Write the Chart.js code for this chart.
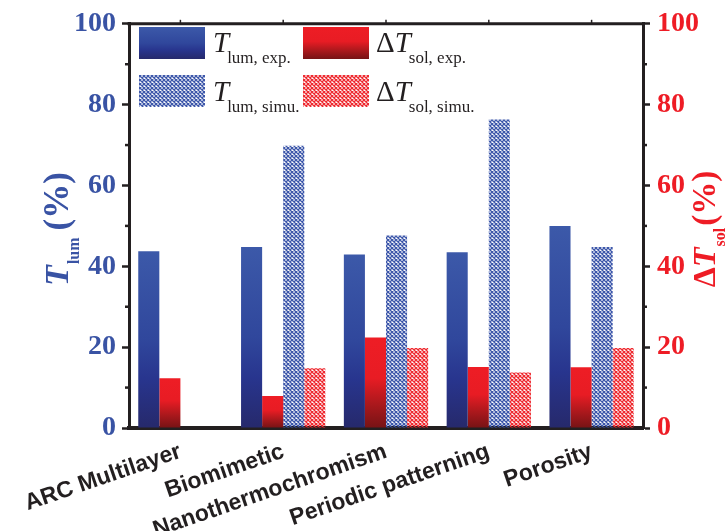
<!DOCTYPE html>
<html>
<head>
<meta charset="utf-8">
<script src="https://cdn.jsdelivr.net/npm/chart.js@4.4.0/dist/chart.umd.min.js"></script>
<style>
  html, body { margin: 0; padding: 0; background: #fff; }
</style>
</head>
<body>
<canvas id="chart" width="725" height="531"></canvas>
<script>
// values
const categories = ['ARC Multilayer', 'Biomimetic', 'Nanothermochromism', 'Periodic patterning', 'Porosity']
const tLumExp = [43.7, 44.8, 42.9, 43.5, 50.0]
const dtSolExp = [12.3, 7.9, 22.4, 15.1, 15.0]
const tLumSimu = [null, 69.8, 47.6, 76.3, 44.8]
const dtSolSimu = [null, 14.8, 19.8, 13.7, 19.8]
const minorTicks = [10, 30, 50, 70, 90]

const BLUE = '#3953a4'
const RED = '#ee1c25'
const INK = '#231f20'

const blueStops = [[0, '#3c59a9'], [0.5, '#30479c'], [0.72, '#28358e'], [1, '#26296b']]
const redStops = [[0, '#ee1d25'], [0.45, '#e81c24'], [0.75, '#a8181c'], [1, '#761315']]

function hatch(color) {
    const c = document.createElement('canvas')
    c.width = 4
    c.height = 4
    const g = c.getContext('2d')
    g.strokeStyle = color
    g.lineWidth = 1.3
    g.beginPath()
    g.moveTo(-1, -1); g.lineTo(5, 5)
    g.moveTo(5, -1); g.lineTo(-1, 5)
    g.stroke()
    return g.createPattern(c, 'repeat')
}

function barGradient(ctx, stops) {
    const chart = ctx.chart
    if (!chart.chartArea || ctx.raw == null) return stops[0][1]
    const scale = chart.scales[ctx.dataset.yAxisID]
    const top = scale.getPixelForValue(ctx.raw)
    const bottom = scale.getPixelForValue(0)
    if (!isFinite(top) || bottom - top < 1) return stops[0][1]
    const g = chart.ctx.createLinearGradient(0, top, 0, bottom)
    stops.forEach(s => g.addColorStop(s[0], s[1]))
    return g
}

function legendGradient(ctx, y, h, stops) {
    const g = ctx.createLinearGradient(0, y, 0, y + h)
    stops.forEach(s => g.addColorStop(s[0], s[1]))
    return g
}

// draw a run of text pieces (main text + subscripts)
function drawRich(ctx, parts, x, y, center) {
    let total = 0
    parts.forEach(p => {
        ctx.font = p.font
        p.w = ctx.measureText(p.text).width
        total += p.w + (p.gap || 0)
    })
    let cx = center ? x - total / 2 : x
    parts.forEach(p => {
        ctx.font = p.font
        ctx.fillText(p.text, cx, y + (p.dy || 0))
        cx += p.w + (p.gap || 0)
    })
}

const blueHatch = hatch('#3d57aa')
const redHatch = hatch('#ee2a30')

const decor = {
    id: 'decor',
    afterDraw(chart) {
        const ctx = chart.ctx
        const area = chart.chartArea
        const x = chart.scales.x
        const y = chart.scales.y
        const y2 = chart.scales.y2
        ctx.save()

        // top frame line with little ticks at the categories
        ctx.strokeStyle = INK
        ctx.lineWidth = 3
        ctx.beginPath()
        ctx.moveTo(area.left - 1.5, area.top)
        ctx.lineTo(area.right + 1.5, area.top)
        ctx.stroke()
        ctx.lineWidth = 1.5
        categories.forEach((c, i) => {
            const px = x.getPixelForTick(i)
            ctx.beginPath()
            ctx.moveTo(px, area.top)
            ctx.lineTo(px, area.top - 4)
            ctx.stroke()
        })

        // minor ticks on both value axes
        ctx.lineWidth = 2.5
        minorTicks.forEach(v => {
            const py = y.getPixelForValue(v)
            ctx.beginPath()
            ctx.moveTo(area.left, py)
            ctx.lineTo(area.left - 4, py)
            ctx.stroke()
            const py2 = y2.getPixelForValue(v)
            ctx.beginPath()
            ctx.moveTo(area.right, py2)
            ctx.lineTo(area.right + 4, py2)
            ctx.stroke()
        })

        // axis titles
        ctx.textAlign = 'left'
        ctx.textBaseline = 'alphabetic'
        ctx.fillStyle = BLUE
        ctx.save()
        ctx.translate(68, 229)
        ctx.rotate(-Math.PI / 2)
        drawRich(ctx, [
            { text: 'T', font: 'bold italic 34px "Liberation Serif"', gap: 1 },
            { text: 'lum', font: 'bold 16px "Liberation Serif"', dy: 11, gap: 7 },
            { text: '(%)', font: 'bold 35px "Liberation Serif"' }
        ], 0, 0, true)
        ctx.restore()

        ctx.fillStyle = RED
        ctx.save()
        ctx.translate(715, 229)
        ctx.rotate(-Math.PI / 2)
        drawRich(ctx, [
            { text: '\u0394', font: 'bold 32px "Liberation Serif"' },
            { text: 'T', font: 'bold italic 32px "Liberation Serif"', gap: 1 },
            { text: 'sol', font: 'bold 16px "Liberation Serif"', dy: 10, gap: 2 },
            { text: '(%)', font: 'bold 33px "Liberation Serif"' }
        ], 0, 0, true)
        ctx.restore()

        // legend, two columns by two rows
        const boxW = 66, boxH = 32
        const rows = [27, 75]
        const cols = [139, 303]
        ctx.fillStyle = legendGradient(ctx, rows[0], boxH, blueStops)
        ctx.fillRect(cols[0], rows[0], boxW, boxH)
        ctx.fillStyle = legendGradient(ctx, rows[0], boxH, redStops)
        ctx.fillRect(cols[1], rows[0], boxW, boxH)
        ctx.fillStyle = blueHatch
        ctx.fillRect(cols[0], rows[1], boxW, boxH)
        ctx.fillStyle = redHatch
        ctx.fillRect(cols[1], rows[1], boxW, boxH)

        ctx.fillStyle = INK
        const main = 'italic 29px "Liberation Serif"'
        const up = '29px "Liberation Serif"'
        const sub = '17px "Liberation Serif"'
        drawRich(ctx, [{ text: 'T', font: main, gap: -2 }, { text: 'lum, exp.', font: sub, dy: 11 }], 213, 52)
        drawRich(ctx, [{ text: 'T', font: main, gap: -2 }, { text: 'lum, simu.', font: sub, dy: 11 }], 213, 101)
        drawRich(ctx, [{ text: '\u0394', font: up }, { text: 'T', font: main, gap: -2 }, { text: 'sol, exp.', font: sub, dy: 11 }], 376, 52)
        drawRich(ctx, [{ text: '\u0394', font: up }, { text: 'T', font: main, gap: -2 }, { text: 'sol, simu.', font: sub, dy: 11 }], 376, 101)

        ctx.restore()
    }
}

const valueAxis = (side, color) => ({
    type: 'linear',
    position: side,
    min: 0,
    max: 100,
    ticks: {
        stepSize: 20,
        color: color,
        padding: side === 'left' ? 6 : 7,
        font: { family: 'Liberation Serif', size: 28, weight: 'bold' }
    },
    grid: {
        drawOnChartArea: false,
        color: INK,
        tickColor: INK,
        tickLength: 7,
        tickWidth: 2.5
    },
    border: { color: INK, width: 3 },
    afterFit: scale => { scale.width = side === 'left' ? 129 : 82 }
})

new Chart(document.getElementById('chart'), {
    type: 'bar',
    data: {
        labels: categories,
        datasets: [
            {
                label: 'T lum, exp.',
                data: tLumExp,
                yAxisID: 'y',
                backgroundColor: c => barGradient(c, blueStops)
            },
            {
                label: 'ΔT sol, exp.',
                data: dtSolExp,
                yAxisID: 'y2',
                backgroundColor: c => barGradient(c, redStops)
            },
            {
                label: 'T lum, simu.',
                data: tLumSimu,
                yAxisID: 'y',
                backgroundColor: blueHatch
            },
            {
                label: 'ΔT sol, simu.',
                data: dtSolSimu,
                yAxisID: 'y2',
                backgroundColor: redHatch
            }
        ]
    },
    options: {
        responsive: false,
        animation: false,
        categoryPercentage: 0.82,
        barPercentage: 1,
        layout: { padding: { top: 22, left: 0, right: 0, bottom: 0 } },
        plugins: {
            legend: { display: false },
            tooltip: { enabled: false }
        },
        scales: {
            x: {
                grid: { display: false },
                border: { color: INK, width: 4 },
                ticks: {
                    color: INK,
                    autoSkip: false,
                    minRotation: 19,
                    maxRotation: 19,
                    padding: 2,
                    font: { family: 'Liberation Sans', size: 23, weight: 'bold' }
                },
                afterFit: scale => { scale.height = 103 }
            },
            y: valueAxis('left', BLUE),
            y2: valueAxis('right', RED)
        }
    },
    plugins: [decor]
})
</script>
</body>
</html>
